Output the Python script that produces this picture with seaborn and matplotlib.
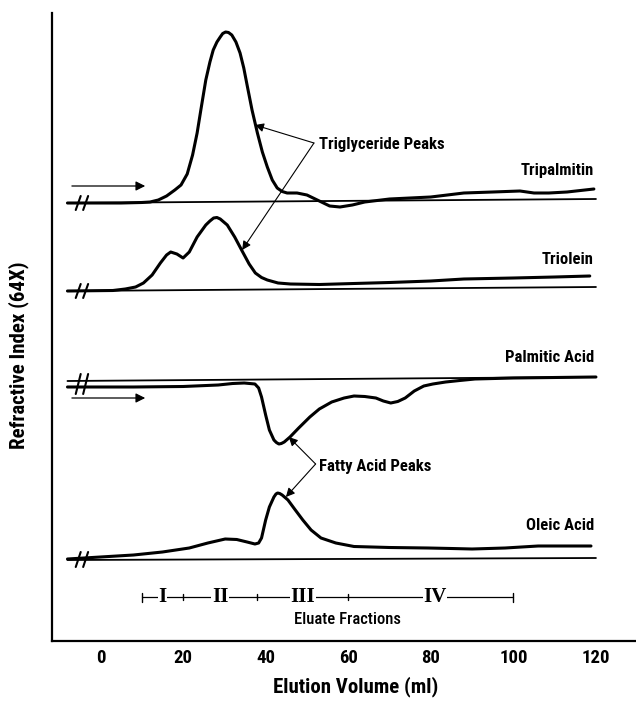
import matplotlib
matplotlib.use("Agg")
import matplotlib.pyplot as plt
import seaborn as sns
import pandas as pd

# Elution volume (ml) and detector readings (arbitrary units, offset per trace)
tripalmitin_x = [-8, 5, 10, 12, 14, 16, 18, 19.5, 21, 22.3, 23.4, 24.3, 25.5, 26.5, 27.3, 28.2, 29, 29.6,
                 30.3, 31.0, 31.8, 32.8, 33.8, 34.7, 35.5, 36.7, 38, 39.2, 40.4, 41.6, 42.8, 44, 45.2,
                 47.6, 50, 52.5, 55.5, 58, 61, 64, 70, 80, 88, 95, 101.6, 105, 108.6, 113, 119.5]
tripalmitin_y = [43.8, 43.8, 43.85, 43.9, 44.1, 44.5, 45.1, 45.6, 46.7, 48.6, 50.8, 53.1, 56.1, 57.9, 59.1,
                 59.9, 60.4, 60.75, 60.9, 60.85, 60.6, 59.9, 58.8, 57.3, 55.6, 53.1, 50.8, 48.9, 47.4,
                 46.1, 45.3, 44.95, 44.8, 44.8, 44.6, 44.1, 43.5, 43.4, 43.6, 43.9, 44.2, 44.4, 44.8,
                 44.9, 45.0, 44.8, 44.8, 44.9, 45.2]

triolein_x = [-8, 3, 6, 8.5, 10.4, 12.5, 14.5, 16, 17, 18.5, 20, 21.5, 23.4, 25.5, 26.5, 27.4, 28.2, 29,
              30.7, 32.5, 34.3, 36, 37.5, 39, 40.4, 43, 46, 53, 61.4, 70, 80, 88, 100, 110, 118.5]
triolein_y = [35.0, 35.05, 35.2, 35.4, 35.8, 36.6, 37.8, 38.6, 38.9, 38.7, 38.3, 38.9, 40.4, 41.6, 42.0,
              42.3, 42.35, 42.2, 41.6, 40.4, 39.0, 37.7, 36.8, 36.35, 36.1, 35.8, 35.7, 35.65, 35.75,
              35.85, 36.0, 36.2, 36.3, 36.4, 36.5]

palmitic_x = [-8, 8, 20, 28.5, 32, 34.8, 37.4, 38.3, 39, 40, 40.9, 42, 42.6, 43.2, 43.8, 44.5, 45.9, 48,
              50.7, 53, 56, 59, 61.4, 64, 66.7, 68.5, 70.3, 72, 73.8, 76, 78.3, 80.5, 83.6, 87, 90.7,
              100, 120]
palmitic_y = [25.4, 25.4, 25.45, 25.6, 25.75, 25.8, 25.7, 25.3, 24.4, 22.6, 21.1, 20.1, 19.85, 19.7,
              19.75, 19.9, 20.4, 21.3, 22.4, 23.2, 23.9, 24.3, 24.5, 24.45, 24.3, 24.0, 23.8, 23.95,
              24.3, 25.0, 25.5, 25.7, 25.9, 26.05, 26.2, 26.3, 26.4]

oleic_x = [-8, 0, 8, 15, 21.5, 26, 30.2, 33, 35.5, 37.4, 38.3, 39, 40, 40.9, 42, 42.5, 42.9, 43.4, 44,
           45.4, 47, 49, 51, 53.4, 57, 61.4, 70, 79.3, 85, 90, 98, 106, 118.8]
oleic_y = [8.2, 8.4, 8.6, 8.9, 9.3, 9.8, 10.2, 10.15, 9.9, 9.7, 9.8, 10.3, 12.1, 13.4, 14.4, 14.7, 14.8,
           14.75, 14.6, 14.1, 13.2, 12.1, 11.1, 10.3, 9.8, 9.45, 9.35, 9.3, 9.25, 9.2, 9.3, 9.5, 9.5]

# baselines (start, end) for each trace
base_x = [-8, 120]
tripalmitin_base = [43.8, 44.2]
triolein_base = [35.0, 35.4]
palmitic_base = [26.0, 26.4]
oleic_base = [8.1, 8.3]

trace_names = ["Tripalmitin", "Triolein", "Palmitic Acid", "Oleic Acid"]

# eluate fractions bar
fraction_edges = [10, 20, 38, 60, 100]
fraction_labels = ["I", "II", "III", "IV"]
fraction_label_x = [15, 29, 49, 81]

narrow = ["Liberation Sans Narrow", "Roboto Condensed", "DejaVu Sans"]
bold = dict(fontfamily=narrow, fontweight="bold", fontstretch="condensed")

sns.set_theme(style="white")
plt.rcParams["text.color"] = "black"
plt.rcParams["axes.labelcolor"] = "black"

fig = plt.figure(figsize=(6.36, 7.01), dpi=100)
ax = fig.add_axes([52 / 636, 60 / 701, 584 / 636, 628 / 701])

traces = [(tripalmitin_x, tripalmitin_y, tripalmitin_base),
          (triolein_x, triolein_y, triolein_base),
          (palmitic_x, palmitic_y, palmitic_base),
          (oleic_x, oleic_y, oleic_base)]
label_y = [47.0, 38.1, 28.3, 11.6]

for (tx, ty, tb), name, ly in zip(traces, trace_names, label_y):
    sns.lineplot(x=base_x, y=tb, color="black", linewidth=1.3, ax=ax)
    df = pd.DataFrame({"ml": tx, "ri": ty})
    sns.lineplot(data=df, x="ml", y="ri", color="black", linewidth=2.2, ax=ax)
    ax.text(119.5, ly, name, ha="right", va="center", fontsize=12, **bold)
    # break marks "//"
    lo = min(ty[0], tb[0]) - 0.7
    hi = max(ty[0], tb[0]) + 0.7
    for bx in (-5.4, -3.6):
        ax.plot([bx - 0.6, bx + 0.6], [lo, hi], color="black", lw=1.5)

# flow direction arrows
for ay in (45.5, 24.3):
    ax.annotate("", xy=(11.5, ay), xytext=(-7.6, ay),
                arrowprops=dict(arrowstyle="-|>", color="black", lw=0.9, mutation_scale=14))

# peak annotations
arr = dict(arrowstyle="-|>", color="black", lw=0.8, mutation_scale=13, shrinkA=0, shrinkB=0)
ax.text(52.9, 49.6, "Triglyceride Peaks", ha="left", va="center", fontsize=12, **bold)
ax.annotate("", xy=(37.4, 51.6), xytext=(51.7, 49.8), arrowprops=arr)
ax.annotate("", xy=(34.3, 39.1), xytext=(51.7, 49.8), arrowprops=arr)
ax.text(52.9, 17.4, "Fatty Acid Peaks", ha="left", va="center", fontsize=12, **bold)
ax.annotate("", xy=(45.6, 20.4), xytext=(52.1, 17.7), arrowprops=arr)
ax.annotate("", xy=(44.9, 14.4), xytext=(52.1, 17.7), arrowprops=arr)

# eluate fractions
fy = 4.4
ax.plot([fraction_edges[0], fraction_edges[-1]], [fy, fy], color="black", lw=0.9)
for i, ex in enumerate(fraction_edges):
    h = 0.45 if i in (0, len(fraction_edges) - 1) else 0.3
    ax.plot([ex, ex], [fy - h, fy + h], color="black", lw=1.0)
for lx, lab in zip(fraction_label_x, fraction_labels):
    ax.text(lx, fy, lab, ha="center", va="center", fontsize=15, fontweight="bold",
            fontfamily=["Liberation Serif", "DejaVu Serif"],
            bbox=dict(facecolor="white", edgecolor="none", pad=0.5))
ax.text(59.7, 2.1, "Eluate Fractions", ha="center", va="center", fontsize=12, fontweight="medium",
        fontfamily=narrow, fontstretch="condensed")

ax.set_xlim(-11.75, 129.7)
ax.set_ylim(0, 62.8)
ax.set_xticks(range(0, 121, 20))
ax.set_yticks([])
ax.tick_params(axis="x", direction="in", length=7, width=1.3, pad=6, labelsize=13.5, colors="black")
for t in ax.get_xticklabels():
    t.set_fontweight("bold")
    t.set_fontfamily(narrow)
    t.set_fontstretch("condensed")
for s in ("top", "right"):
    ax.spines[s].set_visible(False)
for s in ("left", "bottom"):
    ax.spines[s].set_color("black")
    ax.spines[s].set_linewidth(1.6)

ax.set_xlabel("Elution Volume (ml)", fontsize=15, **bold)
ax.set_ylabel("Refractive Index (64X)", fontsize=15, **bold)
ax.xaxis.set_label_coords(0.52, -0.056)
ax.yaxis.set_label_coords(-0.04, 0.455)

fig.savefig("out.png", dpi=100)
